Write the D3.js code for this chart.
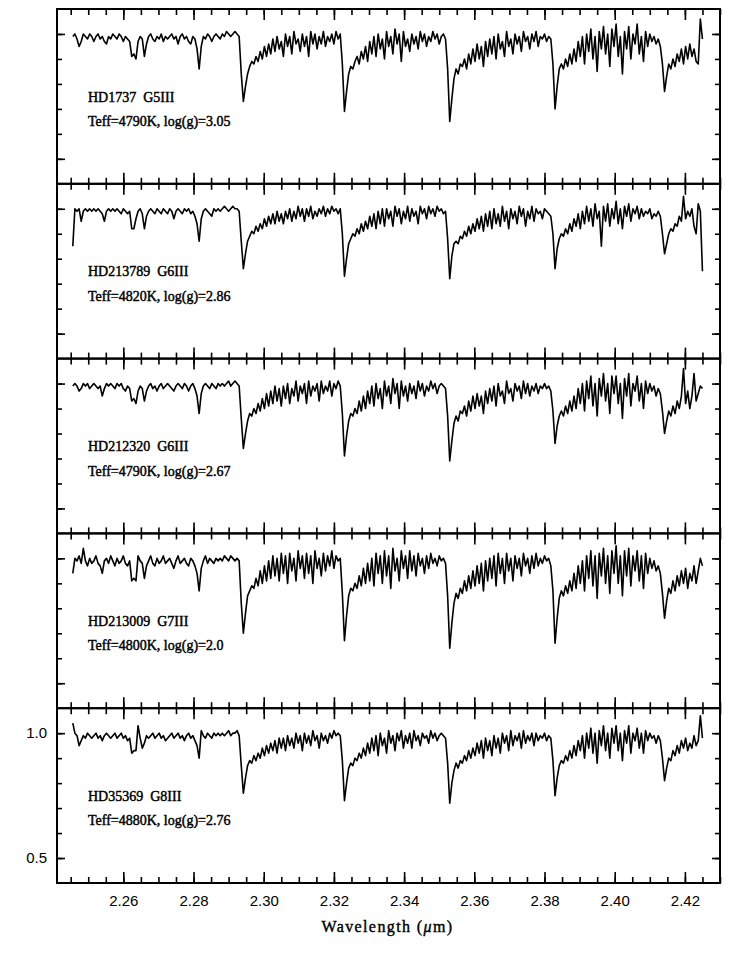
<!DOCTYPE html>
<html>
<head>
<meta charset="utf-8">
<title>K-band spectra of G giants</title>
<script src="https://d3js.org/d3.v7.min.js"></script>
<style>
    body {
        margin: 0;
        background: #fff;
    }
    .frame {
        fill: none;
        stroke: #000;
        stroke-width: 2px;
    }
    .tick line {
        stroke: #000;
        stroke-width: 1.6px;
    }
    .spectrum {
        fill: none;
        stroke: #000;
        stroke-width: 1.6px;
        stroke-linejoin: round;
    }
    .starLabel {
        font-family: 'Liberation Serif', 'DejaVu Serif', serif;
        font-size: 14px;
        fill: #000;
        stroke: #000;
        stroke-width: 0.45px;
    }
    .axisTitle {
        font-family: 'Liberation Serif', 'DejaVu Serif', serif;
        font-size: 16px;
        letter-spacing: 1.4px;
        fill: #000;
        stroke: #000;
        stroke-width: 0.4px;
    }
</style>
</head>
<body>
<svg id="chart" width="733" height="972" style="background: white;"></svg>
<script>
    // continuum-normalised flux (percent), evenly sampled over waveRange
    const waveRange = [2.2456, 2.4250];

    const hd1737 = [
        99,100,98,95,97,100,99,98,100,99, 97,99,100,98,99,97,96,99,98,100,
        99,98,100,99,97,99,98,97,91,92, 90,97,99,98,91,96,99,100,98,97,
        99,98,100,97,99,98,99,100,98,99, 96,99,100,98,99,97,96,99,98,94,
        86,95,99,98,100,99,97,99,100,99, 98,100,99,101,100,99,100,101,100,99,
        84,73,79,84,87,89,88,91,89,93, 90,95,91,96,92,98,93,99,94,97,
        91,100,95,99,92,101,96,98,93,100, 95,99,91,101,96,100,94,99,96,101,
        95,99,97,100,96,101,98,100,88,
        69,77,84,87,86,89,91,88,93,90, 95,89,97,92,99,91,100,94,98,90,
        101,95,99,92,102,96,100,89,101,95, 98,93,100,96,99,94,101,97,100,95,
        99,97,101,98,100,96,99,100,98,86,
        65,74,82,86,84,88,87,90,86,92, 88,94,89,96,90,95,87,97,91,98,
        92,99,90,100,94,97,91,101,95,98, 92,100,96,99,93,101,97,99,94,100,
        97,101,95,99,98,100,97,99,98,88,
        70,79,86,88,86,90,87,92,88,94, 89,97,91,99,88,100,93,102,90,99,
        85,101,94,103,92,100,87,102,95,104, 91,99,84,101,94,103,90,100,96,104,
        92,99,89,101,95,100,97,99,96,98, 95,88,
        77,83,88,86,90,87,92,89,94,88, 95,90,96,91,94,89,88,106,98
    ];

    const hd213789 = [
        85,100,99,100,95,99,100,99,100,99, 100,99,100,99,98,95,99,100,99,100,
        99,100,99,98,100,99,98,99,92,92, 96,99,100,98,92,97,99,100,99,98,
        100,99,98,100,99,98,100,99,96,99, 100,99,98,100,99,100,98,99,97,94,
        87,96,99,100,99,98,97,100,99,100, 99,100,101,100,99,100,101,100,100,99,
        87,76,82,87,89,91,90,93,91,94, 92,96,93,97,94,98,94,99,95,98,
        94,99,96,100,95,99,96,101,97,100, 95,100,97,101,96,99,97,100,98,101,
        97,100,98,101,99,100,98,100,90,
        73,80,86,88,90,89,92,90,94,91, 95,92,97,93,98,92,99,94,100,93,
        100,96,99,93,101,97,100,94,99,96, 101,95,100,97,99,94,101,98,100,96,
        101,98,100,97,101,99,100,98,99,88,
        72,81,86,87,86,89,88,91,89,93, 90,94,91,96,92,97,91,98,93,99,
        92,100,94,98,93,101,95,99,92,100, 96,99,94,101,97,100,93,99,96,101,
        95,100,98,99,96,100,99,98,97,90,
        76,84,88,90,89,92,90,94,91,96, 93,98,92,99,94,101,95,100,93,102,
        96,99,85,101,95,102,93,100,96,103, 94,100,92,101,97,102,95,100,98,101,
        96,100,97,99,98,100,96,98,97,99, 97,90,
        82,86,90,92,91,94,93,97,95,105, 96,99,97,100,93,90,102,99,75
    ];

    const hd212320 = [
        99,100,99,97,98,100,99,100,98,99, 100,99,98,99,95,98,100,99,100,99,
        98,100,99,100,98,97,99,98,93,94, 92,97,99,98,93,97,99,100,98,99,
        97,99,100,98,99,100,99,98,97,99, 100,99,98,100,99,97,99,100,98,95,
        88,96,99,100,99,98,100,99,98,100, 99,100,99,100,101,99,100,101,100,99,
        86,74,80,85,88,87,90,88,92,89, 94,90,96,91,97,92,99,93,98,91,
        99,94,100,92,98,95,101,93,99,96, 100,92,101,95,99,97,100,93,101,96,
        99,97,101,95,100,98,101,99,88,
        71,79,85,88,87,90,88,93,89,95, 90,97,92,99,91,100,94,98,90,101,
        95,99,92,102,96,100,90,101,95,99, 93,100,96,99,94,101,97,100,95,99,
        97,101,98,100,96,99,100,99,98,87,
        69,77,84,87,85,89,88,91,87,93, 89,95,90,96,91,95,88,97,92,98,
        93,99,91,100,95,97,92,101,96,98, 93,100,97,99,94,101,96,100,95,99,
        97,100,96,99,98,100,98,99,97,89,
        76,83,87,89,87,91,88,93,89,95, 90,98,92,100,89,101,94,103,91,100,
        87,102,95,104,93,100,88,103,96,103, 92,100,86,102,95,104,91,100,97,103,
        93,100,90,101,96,100,97,99,95,98, 96,89,
        80,85,89,87,91,88,93,90,95,106, 92,97,90,95,104,93,96,99,98
    ];

    const hd213009 = [
        94,100,99,101,98,104,99,97,100,98, 99,101,98,97,94,99,100,98,101,99,
        97,100,98,99,101,98,97,99,91,92, 91,101,99,98,92,97,99,101,98,97,
        100,98,99,101,98,99,100,98,96,99, 101,98,99,100,98,97,100,99,97,94,
        87,96,99,101,98,100,99,98,100,99, 100,99,101,100,99,101,100,99,100,99,
        82,70,78,85,87,89,88,92,89,95, 90,97,91,99,92,101,93,100,91,102,
        94,101,90,102,95,100,91,103,96,101, 92,102,94,101,90,103,96,100,93,102,
        95,101,97,103,96,101,99,100,86,
        67,77,85,88,87,90,88,93,89,96, 90,98,91,100,89,102,94,101,90,103,
        93,101,88,104,95,100,91,103,96,101, 92,103,95,101,93,102,97,100,94,101,
        96,102,98,100,97,101,99,100,98,85,
        64,74,82,86,84,88,86,91,87,93, 88,95,89,97,90,98,87,99,91,100,
        92,101,89,102,94,100,90,102,95,100, 91,101,96,100,93,102,97,100,94,101,
        96,102,97,100,98,101,99,100,97,87,
        66,76,84,87,85,89,86,91,87,94, 88,97,90,99,87,101,92,103,89,101,
        84,102,93,104,90,101,86,103,94,105, 90,101,85,103,93,104,89,101,95,103,
        91,101,88,102,94,100,96,99,95,97, 94,86,
        76,83,88,86,91,87,93,89,95,90, 96,88,94,91,97,90,95,100,97
    ];

    const hd35369 = [
        104,100,99,95,97,99,98,100,99,98, 99,100,98,99,97,99,100,99,98,99,
        100,98,99,100,98,99,97,98,92,93, 93,103,98,94,96,99,98,99,100,98,
        99,100,98,99,97,98,99,100,98,99, 100,98,99,97,99,100,98,99,97,95,
        90,101,99,98,100,99,98,100,99,100, 99,100,99,100,101,99,100,100,101,99,
        87,76,82,87,89,88,91,89,92,90, 94,91,95,92,96,93,97,92,98,94,
        98,93,99,95,98,94,100,96,99,93, 100,96,99,95,101,97,99,94,100,97,
        99,96,100,98,101,99,100,99,89,
        73,80,86,88,87,90,89,92,90,94, 91,96,92,98,93,99,91,100,95,98,
        92,101,96,99,93,100,97,101,94,99, 96,100,94,101,97,99,95,100,98,99,
        96,101,98,100,97,99,100,99,98,88,
        72,80,85,88,86,89,88,91,89,93, 90,94,91,96,92,97,90,98,93,97,
        91,99,94,98,92,100,96,99,93,101, 95,99,97,100,94,101,96,99,97,100,
        95,100,97,99,98,100,97,99,98,89,
        75,82,87,89,88,91,89,93,90,95, 91,97,93,99,90,100,94,102,92,100,
        88,101,95,103,93,100,90,102,96,103, 93,100,89,101,96,103,92,100,97,102,
        94,100,92,101,97,100,98,99,96,99, 97,90,
        81,86,90,89,93,91,95,92,97,94, 98,93,96,94,99,95,97,107,98
    ];

    const spectra = [hd1737, hd213789, hd212320, hd213009, hd35369];
    const starNames = ["HD1737", "HD213789", "HD212320", "HD213009", "HD35369"];
    const spTypes = ["G5III", "G6III", "G6III", "G7III", "G8III"];
    const teffs = ["4790", "4820", "4790", "4800", "4880"];
    const loggs = ["3.05", "2.86", "2.67", "2.0", "2.76"];

    var svg = d3.select("svg#chart"),
        width = +svg.attr("width"),
        height = +svg.attr("height");
    const margin = { top: 9, right: 13, bottom: 89, left: 57 };
    const plotWidth = width - margin.left - margin.right;
    const panelHeight = (height - margin.top - margin.bottom) / spectra.length;

    var x = d3.scaleLinear().domain([2.2411, 2.4300]).range([0, plotWidth]);
    var y = d3.scaleLinear().domain([0.4, 1.1]).range([panelHeight, 0]);
    // sample index -> wavelength
    var sampleWave = d3.scaleLinear().domain([0, hd1737.length - 1]).range(waveRange);

    const xMajor = x.ticks(10);     // every 0.02
    const xMinor = x.ticks(40);     // every 0.005
    const yMajor = y.ticks(2);      // 0.5, 1.0
    const yMinor = y.ticks(7).filter(d => d > 0.41 && d < 1.09);

    var line = d3.line()
        .x((d, i) => x(sampleWave(i)))
        .y(d => y(d / 100));

    function tickAxis(g, axis) {
        g.call(axis);
        g.select(".domain").remove();
    }

    spectra.forEach((flux, p) => {
        var panel = svg.append("g")
            .attr("transform", "translate(" + margin.left + "," + (margin.top + p * panelHeight) + ")");

        panel.append("path")
            .datum(flux)
            .attr("class", "spectrum")
            .attr("d", line);

        // inward ticks on all four sides
        panel.append("g").attr("transform", "translate(0," + panelHeight + ")")
            .call(tickAxis, d3.axisTop(x).tickValues(xMinor).tickSize(6).tickSizeOuter(0).tickFormat(""));
        panel.append("g").attr("transform", "translate(0," + panelHeight + ")")
            .call(tickAxis, d3.axisTop(x).tickValues(xMajor).tickSize(11).tickSizeOuter(0).tickFormat(""));
        panel.append("g")
            .call(tickAxis, d3.axisBottom(x).tickValues(xMinor).tickSize(6).tickSizeOuter(0).tickFormat(""));
        panel.append("g")
            .call(tickAxis, d3.axisBottom(x).tickValues(xMajor).tickSize(11).tickSizeOuter(0).tickFormat(""));
        panel.append("g")
            .call(tickAxis, d3.axisRight(y).tickValues(yMinor).tickSize(5).tickSizeOuter(0).tickFormat(""));
        panel.append("g")
            .call(tickAxis, d3.axisRight(y).tickValues(yMajor).tickSize(8).tickSizeOuter(0).tickFormat(""));
        panel.append("g").attr("transform", "translate(" + plotWidth + ",0)")
            .call(tickAxis, d3.axisLeft(y).tickValues(yMinor).tickSize(5).tickSizeOuter(0).tickFormat(""));
        panel.append("g").attr("transform", "translate(" + plotWidth + ",0)")
            .call(tickAxis, d3.axisLeft(y).tickValues(yMajor).tickSize(8).tickSizeOuter(0).tickFormat(""));

        panel.append("rect")
            .attr("class", "frame")
            .attr("width", plotWidth)
            .attr("height", panelHeight);

        panel.append("text")
            .attr("class", "starLabel")
            .attr("x", 31)
            .attr("y", 92.5)
            .attr("xml:space", "preserve")
            .text(starNames[p] + "  " + spTypes[p]);
        panel.append("text")
            .attr("class", "starLabel")
            .attr("x", 31)
            .attr("y", 117)
            .text("Teff=" + teffs[p] + "K, log(g)=" + loggs[p]);

        // numbers only on the bottom panel
        if (p === spectra.length - 1) {
            var xLab = panel.append("g").attr("transform", "translate(0," + panelHeight + ")");
            tickAxis(xLab, d3.axisBottom(x).tickValues(xMajor).tickSize(0).tickPadding(12).tickFormat(d3.format(".2f")));
            var yLab = panel.append("g");
            tickAxis(yLab, d3.axisLeft(y).tickValues(yMajor).tickSize(0).tickPadding(10).tickFormat(d3.format(".1f")));
            [xLab, yLab].forEach(g => g
                .attr("font-family", "'Liberation Sans', Arial, sans-serif")
                .attr("font-size", 15)
                .selectAll("text").attr("fill", "#000"));
        }
    });

    var title = svg.append("text")
        .attr("class", "axisTitle")
        .attr("x", margin.left + plotWidth / 2 - 1)
        .attr("y", 932)
        .attr("text-anchor", "middle");
    title.append("tspan").text("Wavelength (");
    title.append("tspan").attr("font-style", "italic").text("\u03bc");
    title.append("tspan").text("m)");
</script>
</body>
</html>
